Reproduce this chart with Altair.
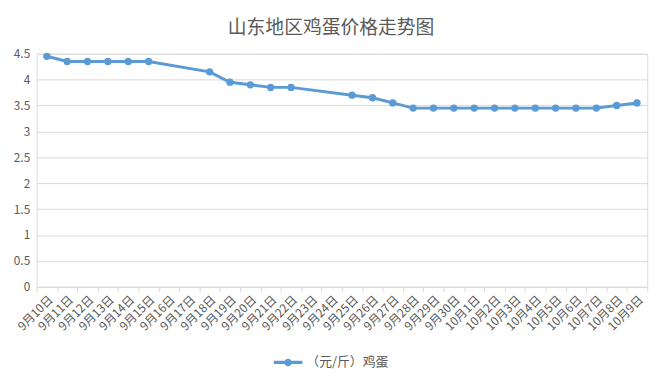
import altair as alt
import pandas as pd

categories = [
    "9月10日", "9月11日", "9月12日", "9月13日", "9月14日", "9月15日", "9月16日",
    "9月17日", "9月18日", "9月19日", "9月20日", "9月21日", "9月22日", "9月23日",
    "9月24日", "9月25日", "9月26日", "9月27日", "9月28日", "9月29日", "9月30日",
    "10月1日", "10月2日", "10月3日", "10月4日", "10月5日", "10月6日", "10月7日",
    "10月8日", "10月9日",
]

price_dates = [
    "9月10日", "9月11日", "9月12日", "9月13日", "9月14日", "9月15日",
    "9月18日", "9月19日", "9月20日", "9月21日", "9月22日",
    "9月25日", "9月26日", "9月27日", "9月28日", "9月29日", "9月30日",
    "10月1日", "10月2日", "10月3日", "10月4日", "10月5日", "10月6日", "10月7日",
    "10月8日", "10月9日",
]
price_values = [
    4.45, 4.35, 4.35, 4.35, 4.35, 4.35,
    4.15, 3.95, 3.9, 3.85, 3.85,
    3.7, 3.65, 3.55, 3.45, 3.45, 3.45,
    3.45, 3.45, 3.45, 3.45, 3.45, 3.45, 3.45,
    3.5, 3.55,
]
series_name = "（元/斤）鸡蛋"
y_ticks = [0, 0.5, 1, 1.5, 2, 2.5, 3, 3.5, 4, 4.5]

df = pd.DataFrame({"date": price_dates, "price": price_values, "series": series_name})

FONT = "Noto Sans CJK SC"
GRAY = "#595959"
GRID = "#d9d9d9"
BLUE = "#5B9BD5"

legend_path = (
    "M-1,-0.11L1,-0.11L1,0.11L-1,0.11Z "
    "M0.26,0A0.26,0.26,0,1,1,-0.26,0A0.26,0.26,0,1,1,0.26,0Z"
)

base = alt.Chart(df).encode(
    x=alt.X(
        "date:N",
        sort=categories,
        bandPosition=0.5,
        scale=alt.Scale(type="band", domain=categories, paddingInner=0, paddingOuter=0),
        axis=alt.Axis(
            title=None,
            labelAngle=-45,
            tickBand="extent",
            domainColor=GRID,
            tickColor=GRID,
            tickSize=5,
            labelColor=GRAY,
            labelFontSize=12,
            labelFont=FONT,
            labelPadding=2,
            grid=False,
        ),
    ),
    y=alt.Y(
        "price:Q",
        scale=alt.Scale(domain=[0, 4.5], nice=False, zero=True),
        axis=alt.Axis(
            title=None,
            values=y_ticks,
            format="~g",
            domain=False,
            ticks=False,
            gridColor=GRID,
            labelColor=GRAY,
            labelFontSize=12,
            labelFont=FONT,
            labelPadding=7,
        ),
    ),
)

line = base.mark_line(color=BLUE, strokeWidth=3)
points = base.mark_point(filled=True, size=55, opacity=1).encode(
    color=alt.Color(
        "series:N",
        scale=alt.Scale(range=[BLUE]),
        legend=alt.Legend(
            title=None,
            orient="none",
            legendX=240,
            legendY=298,
            symbolType=legend_path,
            symbolSize=841,
            symbolStrokeWidth=0,
            symbolOpacity=1,
            labelColor=GRAY,
            labelFontSize=13,
            labelFont=FONT,
            labelOffset=4,
            padding=0,
        ),
    )
)

chart = (
    alt.layer(line, points)
    .properties(
        width=618,
        height=236,
        padding={"left": 29, "top": 44, "right": 15, "bottom": 91},
        autosize=alt.AutoSizeParams(type="none"),
        title=alt.TitleParams(
            "山东地区鸡蛋价格走势图",
            fontSize=19,
            font=FONT,
            fontWeight="normal",
            color=GRAY,
            anchor="middle",
            dx=-11,
            offset=10,
        ),
    )
    .configure_view(stroke=None)
    .configure(background="white")
)

chart.save("out.html", embed_options={"renderer": "svg", "actions": False})
